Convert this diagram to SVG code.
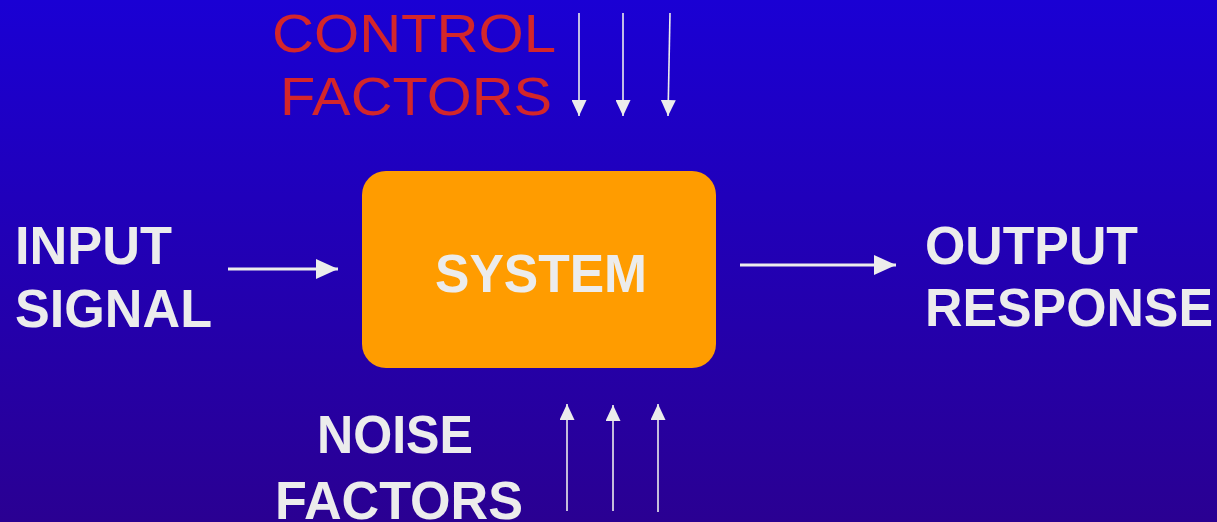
<svg xmlns="http://www.w3.org/2000/svg" width="1217" height="522" viewBox="0 0 1217 522">
<defs>
<linearGradient id="bg" x1="0" y1="0" x2="0" y2="1">
<stop offset="0" stop-color="#1a00d4"/>
<stop offset="1" stop-color="#2a0092"/>
</linearGradient>
<marker id="big" viewBox="0 0 22 20" refX="22" refY="10" markerWidth="22" markerHeight="20" markerUnits="userSpaceOnUse" orient="auto">
<path d="M0,0 L22,10 L0,20 Z" fill="#ececec"/>
</marker>
<marker id="small" viewBox="0 0 16 15" refX="16" refY="7.5" markerWidth="16" markerHeight="15" markerUnits="userSpaceOnUse" orient="auto">
<path d="M0,0 L16,7.5 L0,15 Z" fill="#ececec"/>
</marker>
</defs>
<style>
.w{font-family:"Liberation Sans",Arial,sans-serif;font-weight:bold;font-size:53px;fill:#ececec}
.r{font-family:"Liberation Sans",Arial,sans-serif;font-size:54px;fill:#d4262a}
.thick{stroke:#ececec;stroke-width:3;fill:none}
.thin{stroke:#ececec;stroke-width:1.6;fill:none}
</style>
<rect width="1217" height="522" fill="url(#bg)"/>
<g id="system">
<rect x="362" y="171" width="354" height="197" rx="24" fill="#ff9c00"/>
<text class="w" x="435" y="292" textLength="212" lengthAdjust="spacingAndGlyphs">SYSTEM</text>
</g>
<g id="input">
<text class="w" x="15" y="264" textLength="157" lengthAdjust="spacingAndGlyphs">INPUT</text>
<text class="w" x="15" y="327" textLength="197" lengthAdjust="spacingAndGlyphs">SIGNAL</text>
</g>
<g id="output">
<text class="w" x="925" y="264" textLength="213" lengthAdjust="spacingAndGlyphs">OUTPUT</text>
<text class="w" x="925" y="326" textLength="288" lengthAdjust="spacingAndGlyphs">RESPONSE</text>
</g>
<g id="control">
<text class="r" x="272" y="52" textLength="284" lengthAdjust="spacingAndGlyphs">CONTROL</text>
<text class="r" x="280" y="115" textLength="272" lengthAdjust="spacingAndGlyphs">FACTORS</text>
</g>
<g id="noise">
<text class="w" x="317" y="453" textLength="156" lengthAdjust="spacingAndGlyphs">NOISE</text>
<text class="w" x="275" y="519" textLength="248" lengthAdjust="spacingAndGlyphs">FACTORS</text>
</g>
<g id="connectors">
<line class="thick" x1="228" y1="269" x2="338" y2="269" marker-end="url(#big)"/>
<line class="thick" x1="740" y1="265" x2="896" y2="265" marker-end="url(#big)"/>
<line class="thin" x1="579" y1="13" x2="579" y2="116" marker-end="url(#small)"/>
<line class="thin" x1="623" y1="13" x2="623" y2="116" marker-end="url(#small)"/>
<line class="thin" x1="670" y1="13" x2="668" y2="116" marker-end="url(#small)"/>
<line class="thin" x1="567" y1="511" x2="567" y2="404" marker-end="url(#small)"/>
<line class="thin" x1="613" y1="511" x2="613" y2="405" marker-end="url(#small)"/>
<line class="thin" x1="658" y1="512" x2="658" y2="404" marker-end="url(#small)"/>
</g>
</svg>
